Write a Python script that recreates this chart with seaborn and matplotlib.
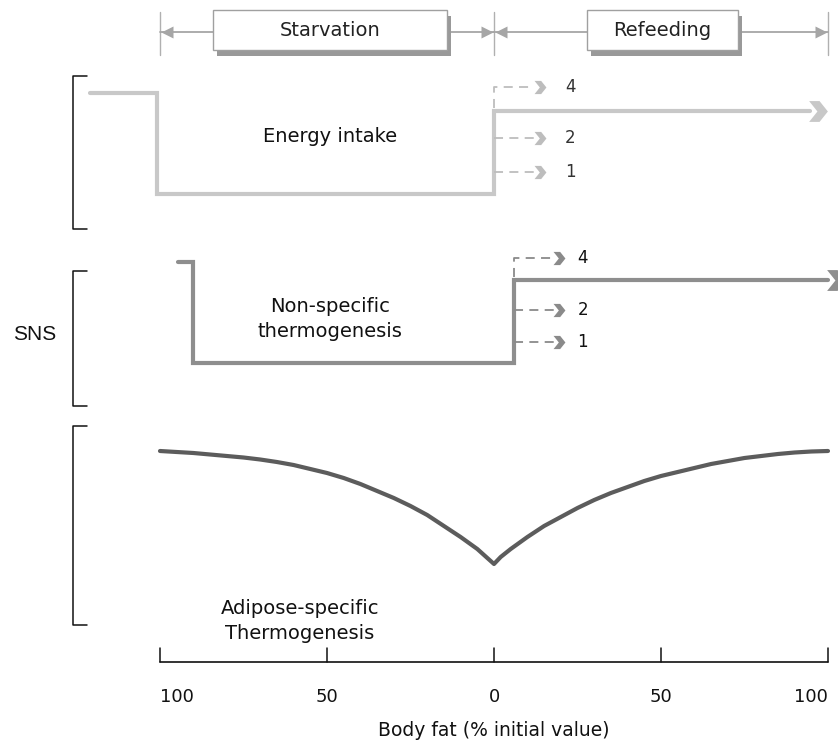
import matplotlib.pyplot as plt
import seaborn as sns
import numpy as np
import pandas as pd
from matplotlib.path import Path
from matplotlib.patches import Rectangle

# -- data --
# x: position along the time course (0-100 = starvation, 100-200 = refeeding)
# y: drawing level, counted from the top of the figure
tick_pos = [0, 50, 100, 150, 200]
tick_labels = ["100", "50", "0", "50", "100"]
phases = ["Starvation", "Refeeding"]

energy_x = [-21, -1, -1, 100, 100, 194.5]
energy_y = [93, 93, 194, 194, 111, 111]
energy_alt_y = [87, 138, 172]
energy_alt_labels = ["4", "2", "1"]

nst_x = [5.4, 9.9, 9.9, 106, 106, 200]
nst_y = [262, 262, 363, 363, 280, 280]
nst_alt_y = [258, 310, 342]
nst_alt_labels = ["4", "2", "1"]

adipose_x = [0, 5, 10, 15, 20, 25, 30, 35, 40, 45, 50, 55, 60, 65, 70, 75, 80, 85, 90, 95, 100,
             102, 105, 110, 115, 120, 125, 130, 135, 140, 145, 150, 155, 160, 165, 170, 175,
             180, 185, 190, 195, 200]
adipose_y = [451, 452, 453, 454.5, 456, 457.5, 459.5, 462, 465, 469, 473, 478, 484, 491, 498,
             506, 515, 526, 537, 549, 564,
             557, 549, 537, 526, 517, 508, 500, 493, 487, 481, 476, 472, 468, 464, 461, 458,
             456, 454, 452.5, 451.5, 451]

# -- figure: one axes spanning the canvas --
sns.set_theme(style="white")
plt.rcParams['font.family'] = ['DejaVu Sans']

fig = plt.figure(figsize=(8.38, 7.44), dpi=100)
ax = fig.add_axes([0, 0, 1, 1])
ax.set_xlim(-160 / 3.34, 678 / 3.34)
ax.set_ylim(744, 0)
ax.axis('off')

chev = Path([(-0.9, 1), (0.1, 1), (0.9, 0), (0.1, -1), (-0.9, -1), (-0.1, 0), (-0.9, 1)],
            [Path.MOVETO] + [Path.LINETO] * 5 + [Path.CLOSEPOLY])

c_energy = '#c8c8c8'
c_nst = '#8e8e8e'
c_adip = '#5c5c5c'

# Energy intake
sns.lineplot(x=energy_x, y=energy_y, estimator=None, sort=False, color=c_energy,
             lw=3, solid_joinstyle='miter', ax=ax)
ax.plot([energy_x[-1] + 2.5], [energy_y[-1]], marker=chev, ms=15, color=c_energy, mec='none')
for i, (yv, lab) in enumerate(zip(energy_alt_y, energy_alt_labels)):
    xs = [100, 112] if i else [100, 100, 112]
    ys = [yv, yv] if i else [energy_y[-1] - 3, yv, yv]
    ax.plot(xs, ys, ls=(0, (5, 3.5)), lw=1.3, color='#bdbdbd')
    ax.plot([113.8], [yv], marker=chev, ms=9.5, color='#bdbdbd', mec='none')
    ax.text(122.8, yv, lab, ha='center', va='center', fontsize=12, color='#333333')
ax.text(50.9, 136, "Energy intake", ha='center', va='center', fontsize=14, color='#111111')

# Non-specific thermogenesis
sns.lineplot(x=nst_x, y=nst_y, estimator=None, sort=False, color=c_nst,
             lw=3, solid_joinstyle='miter', ax=ax)
ax.plot([nst_x[-1] + 2.3], [nst_y[-1]], marker=chev, ms=15, color=c_nst, mec='none')
for i, (yv, lab) in enumerate(zip(nst_alt_y, nst_alt_labels)):
    xs = [106, 118] if i else [106, 106, 118]
    ys = [yv, yv] if i else [nst_y[-1] - 3, yv, yv]
    ax.plot(xs, ys, ls=(0, (5, 3.5)), lw=1.3, color='#8a8a8a')
    ax.plot([119.5], [yv], marker=chev, ms=9.5, color='#8a8a8a', mec='none')
    ax.text(126.6, yv, lab, ha='center', va='center', fontsize=12, color='#111111')
ax.text(50.9, 319, "Non-specific\nthermogenesis", ha='center', va='center',
        fontsize=14, color='#111111', linespacing=1.45)

# Adipose-specific thermogenesis
sns.lineplot(x=adipose_x, y=adipose_y, estimator=None, sort=False, color=c_adip,
             lw=3, ax=ax)
ax.text(41.9, 621, "Adipose-specific\nThermogenesis", ha='center', va='center',
        fontsize=14, color='#111111', linespacing=1.45)

# brackets
for top, bot in [(76, 229), (271, 406), (426, 625)]:
    ax.plot([-21.9, -26, -26, -21.9], [top, top, bot, bot], color='#111111', lw=1.1)
ax.text(-37.4, 335, "SNS", ha='center', va='center', fontsize=15,
        family='Liberation Sans', color='#111111')

# bottom axis
ax.plot([tick_pos[0], tick_pos[-1]], [662, 662], color='#111111', lw=1.2)
for k, (p, lab) in enumerate(zip(tick_pos, tick_labels)):
    ax.plot([p, p], [648, 662], color='#111111', lw=1.1)
    ha = 'left' if k == 0 else ('right' if k == len(tick_pos) - 1 else 'center')
    ax.text(p, 697, lab, ha=ha, va='center', fontsize=13, color='#111111')
ax.text(100, 731, "Body fat (% initial value)", ha='center', va='center',
        fontsize=13.5, color='#111111')

# phase header
c_head = '#a6a6a6'
for p in [0, 100, 200]:
    ax.plot([p, p], [12, 55], color='#b0b0b0', lw=1)
ax.plot([0, 100], [32, 32], color=c_head, lw=1.3)
ax.plot([100, 200], [32, 32], color=c_head, lw=1.3)
for p, m in [(2.0, '<'), (98.0, '>'), (102.0, '<'), (198.0, '>')]:
    ax.plot([p], [32], marker=m, ms=9, color=c_head, mec='none')
for (x0, x1), lab in zip([(15.9, 85.9), (127.8, 173.1)], phases):
    ax.add_patch(Rectangle((x0 + 1.2, 16), x1 - x0, 40, facecolor='#999999',
                           edgecolor='none', zorder=3))
    ax.add_patch(Rectangle((x0, 10), x1 - x0, 40, facecolor='white',
                           edgecolor='#a0a0a0', lw=1, zorder=4))
    ax.text((x0 + x1) / 2, 31, lab, ha='center', va='center', fontsize=14,
            color='#222222', zorder=5)

fig.savefig('out.png', dpi=100)
